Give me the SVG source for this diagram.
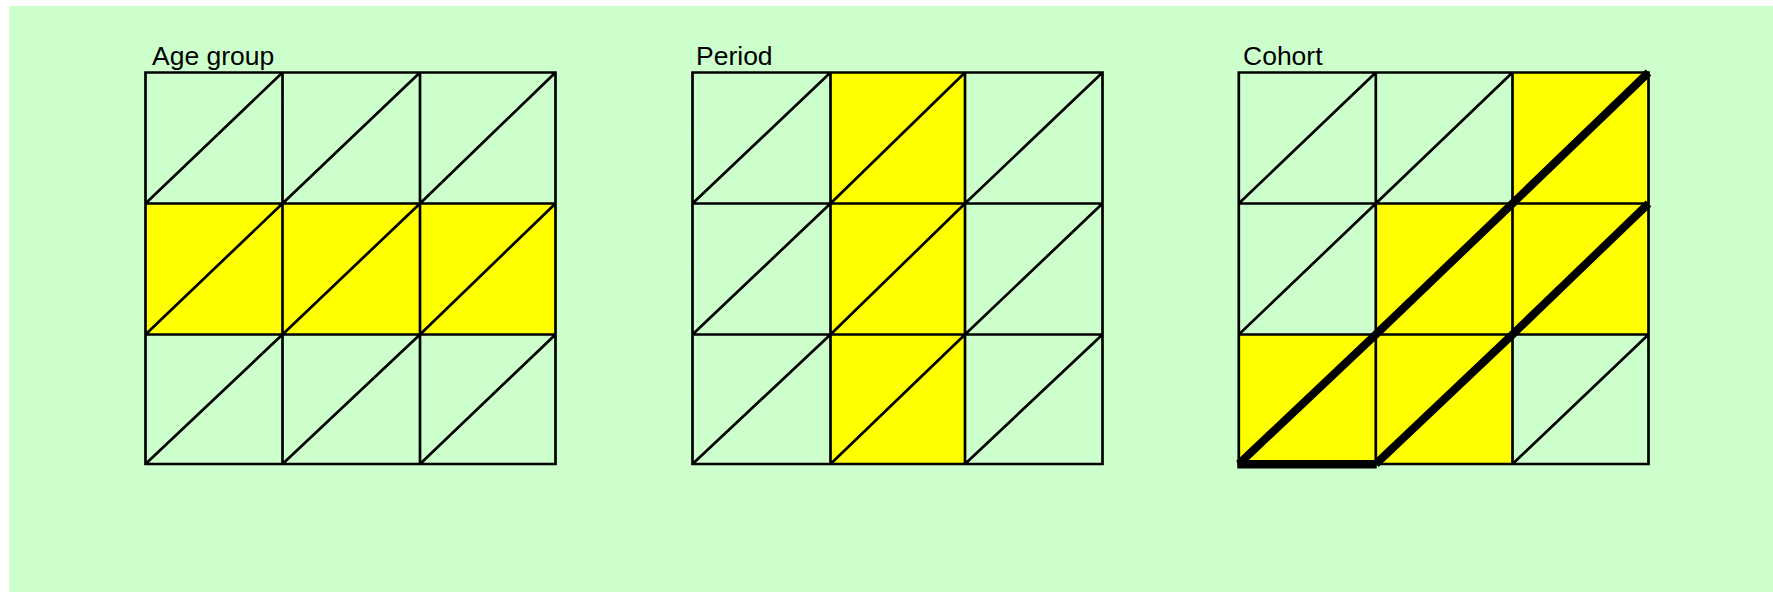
<svg xmlns="http://www.w3.org/2000/svg" width="1773" height="592" viewBox="0 0 1773 592">
<style>
.bg{fill:#CCFFCC}
.hi{fill:#FFFF00}
.ln{fill:none;stroke:#000;stroke-width:2.7}
.thick{fill:none;stroke:#000;stroke-width:8}
.base{fill:none;stroke:#000;stroke-width:8.5}
.lbl{font-family:"Liberation Sans",Arial,sans-serif;font-size:26.5px;fill:#000}
</style>
<rect x="0" y="0" width="1773" height="592" fill="#FFFFFF"/>
<rect class="bg" x="9" y="6" width="1764" height="586"/>

<g id="age-group">
<text class="lbl" x="152" y="65">Age group</text>
<rect class="hi" x="145.5" y="203.5" width="410" height="131"/>
<path class="ln" d="M145.5 72.5H555.5V464H145.5Z M145.5 203.5H555.5 M145.5 334.5H555.5 M282.5 72.5V464 M420 72.5V464
M145.5 203.5L282.5 72.5 M282.5 203.5L420 72.5 M420 203.5L555.5 72.5
M145.5 334.5L282.5 203.5 M282.5 334.5L420 203.5 M420 334.5L555.5 203.5
M145.5 464L282.5 334.5 M282.5 464L420 334.5 M420 464L555.5 334.5"/>
</g>

<g id="period">
<text class="lbl" x="696" y="65">Period</text>
<rect class="hi" x="830.5" y="72.5" width="134.5" height="391.5"/>
<path class="ln" d="M692.5 72.5H1102.5V464H692.5Z M692.5 203.5H1102.5 M692.5 334.5H1102.5 M830.5 72.5V464 M965 72.5V464
M692.5 203.5L830.5 72.5 M830.5 203.5L965 72.5 M965 203.5L1102.5 72.5
M692.5 334.5L830.5 203.5 M830.5 334.5L965 203.5 M965 334.5L1102.5 203.5
M692.5 464L830.5 334.5 M830.5 464L965 334.5 M965 464L1102.5 334.5"/>
</g>

<g id="cohort">
<text class="lbl" x="1243" y="65">Cohort</text>
<rect class="hi" x="1512.5" y="72.5" width="136" height="131"/>
<rect class="hi" x="1375.8" y="203.5" width="272.7" height="131"/>
<rect class="hi" x="1238.8" y="334.5" width="273.7" height="129.5"/>
<path class="ln" d="M1238.8 72.5H1648.5V464H1238.8Z M1238.8 203.5H1648.5 M1238.8 334.5H1648.5 M1375.8 72.5V464 M1512.5 72.5V464
M1238.8 203.5L1375.8 72.5 M1375.8 203.5L1512.5 72.5
M1238.8 334.5L1375.8 203.5
M1512.5 464L1648.5 334.5"/>
<path class="thick" d="M1512.5 203.5L1648.5 72.5 M1375.8 334.5L1512.5 203.5 M1512.5 334.5L1648.5 203.5 M1238.8 464L1375.8 334.5 M1375.8 464L1512.5 334.5"/>
<path class="base" d="M1237.3 464.2H1376.7"/>
</g>
</svg>
